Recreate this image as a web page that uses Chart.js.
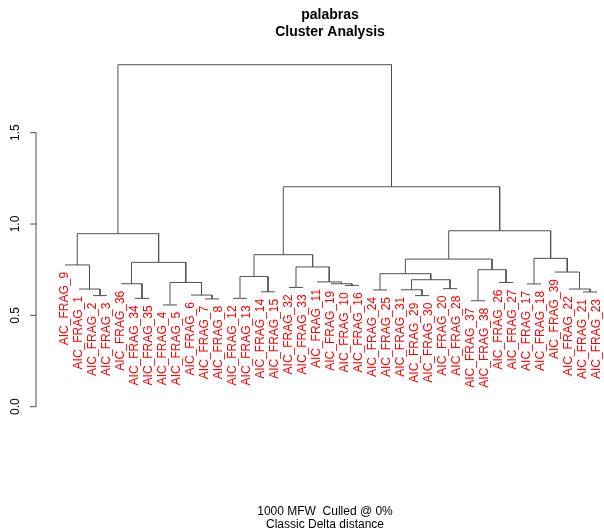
<!DOCTYPE html>
<html>
<head>
<meta charset="utf-8">
<script src="https://cdn.jsdelivr.net/npm/chart.js@4"></script>
<style>
  html, body { margin: 0; padding: 0; background: #fff; }
  canvas { display: block; }
</style>
</head>
<body>
<canvas id="dendro" width="604" height="532"></canvas>
<script>
// --- data ---
const leafLabels = [
  'AIC_FRAG_9', 'AIC_FRAG_1', 'AIC_FRAG_2', 'AIC_FRAG_3', 'AIC_FRAG_36',
  'AIC_FRAG_34', 'AIC_FRAG_35', 'AIC_FRAG_4', 'AIC_FRAG_5', 'AIC_FRAG_6',
  'AIC_FRAG_7', 'AIC_FRAG_8', 'AIC_FRAG_12', 'AIC_FRAG_13', 'AIC_FRAG_14',
  'AIC_FRAG_15', 'AIC_FRAG_32', 'AIC_FRAG_33', 'AIC_FRAG_11', 'AIC_FRAG_19',
  'AIC_FRAG_10', 'AIC_FRAG_16', 'AIC_FRAG_24', 'AIC_FRAG_25', 'AIC_FRAG_31',
  'AIC_FRAG_29', 'AIC_FRAG_30', 'AIC_FRAG_20', 'AIC_FRAG_28', 'AIC_FRAG_37',
  'AIC_FRAG_38', 'AIC_FRAG_26', 'AIC_FRAG_27', 'AIC_FRAG_17', 'AIC_FRAG_18',
  'AIC_FRAG_39', 'AIC_FRAG_22', 'AIC_FRAG_21', 'AIC_FRAG_23'
];

// hclust style: negative = leaf (1-based position), positive = merge row (1-based)
const mergeLeft = [
  -3, -2, -1, -6, -5, -8, -11, -10, 6, 5, 3,
  -13, -15, 12, -17, -21, -20, -19, 15, 14,
  -23, -26, -25, -28, 23, 21, -30, -32, 27, 26,
  -34, -38, -37, -36, 31, 30, 20, 11
];
const mergeRight = [
  -4, 1, 2, -7, 4, -9, -12, 7, 8, 9, 10,
  -14, -16, 13, -18, -22, 16, 17, 18, 19,
  -24, -27, 22, -29, 24, 25, -31, -33, 28, 29,
  -35, -39, 32, 33, 34, 35, 36, 37
];
const mergeHeight = [
  0.608, 0.644, 0.776, 0.593, 0.673, 0.557, 0.590, 0.611, 0.680, 0.790, 0.947,
  0.593, 0.629, 0.713, 0.653, 0.664, 0.673, 0.683, 0.765, 0.832,
  0.639, 0.608, 0.640, 0.646, 0.695, 0.728, 0.580, 0.680, 0.750, 0.808,
  0.672, 0.628, 0.644, 0.737, 0.812, 0.963, 1.204, 1.872
];

const yTicks = [0, 0.5, 1.0, 1.5];
const yTickLabels = ['0.0', '0.5', '1.0', '1.5'];

const mainTitle = 'palabras';
const subTitle = 'Cluster Analysis';
const bottomLines = ['1000 MFW  Culled @ 0%', 'Classic Delta distance'];

// --- tree geometry (in data units) ---
const mergeX = [];
const leafTop = new Array(leafLabels.length).fill(0);

function nodeX(ref) {
  return ref < 0 ? (-ref - 1) : mergeX[ref - 1];
}
function nodeH(ref, parentH) {
  return ref < 0 ? parentH : mergeHeight[ref - 1];
}

const datasets = [];
for (let i = 0; i < mergeHeight.length; i++) {
  const l = mergeLeft[i], r = mergeRight[i], h = mergeHeight[i];
  const xl = nodeX(l), xr = nodeX(r);
  mergeX.push((xl + xr) / 2);
  if (l < 0) leafTop[-l - 1] = h;
  if (r < 0) leafTop[-r - 1] = h;
  datasets.push({
    data: [
      { x: xl, y: nodeH(l, h) },
      { x: xl, y: h },
      { x: xr, y: h },
      { x: xr, y: nodeH(r, h) }
    ],
    borderColor: '#505050',
    borderWidth: 1,
    pointRadius: 0,
    tension: 0,
    fill: false
  });
}

// --- axis, leaf labels and titles ---
const dendroText = {
  id: 'dendroText',
  afterDatasetsDraw(chart) {
    const ctx = chart.ctx;
    const xs = chart.scales.x, ys = chart.scales.y;
    const area = chart.chartArea;
    ctx.save();

    // leaf labels
    ctx.fillStyle = '#ff0000';
    ctx.font = '12px "Liberation Sans", Arial, sans-serif';
    ctx.textAlign = 'right';
    ctx.textBaseline = 'middle';
    leafLabels.forEach((lab, i) => {
      const px = xs.getPixelForValue(i);
      const py = ys.getPixelForValue(leafTop[i]) + 7;
      ctx.save();
      ctx.translate(px, py);
      ctx.rotate(-Math.PI / 2);
      ctx.fillText(lab, 0, 0);
      ctx.restore();
    });

    // y axis
    const ax = area.left;
    ctx.strokeStyle = '#505050';
    ctx.lineWidth = 1;
    ctx.beginPath();
    ctx.moveTo(ax, ys.getPixelForValue(yTicks[0]));
    ctx.lineTo(ax, ys.getPixelForValue(yTicks[yTicks.length - 1]));
    yTicks.forEach(v => {
      const py = ys.getPixelForValue(v);
      ctx.moveTo(ax, py);
      ctx.lineTo(ax - 6, py);
    });
    ctx.stroke();

    ctx.fillStyle = '#000';
    ctx.textAlign = 'center';
    ctx.textBaseline = 'middle';
    yTicks.forEach((v, i) => {
      const py = ys.getPixelForValue(v);
      ctx.save();
      ctx.translate(16, py);
      ctx.rotate(-Math.PI / 2);
      ctx.fillText(yTickLabels[i], 0, 0);
      ctx.restore();
    });

    // titles
    ctx.font = 'bold 14px "Liberation Sans", Arial, sans-serif';
    ctx.fillText(mainTitle, 330, 15);
    ctx.fillText(subTitle, 330, 32);

    ctx.font = '12px "Liberation Sans", Arial, sans-serif';
    ctx.fillText(bottomLines[0], 325, 512);
    ctx.fillText(bottomLines[1], 325, 525);

    ctx.restore();
  }
};

new Chart(document.getElementById('dendro'), {
  type: 'line',
  data: { datasets: datasets },
  options: {
    responsive: false,
    animation: false,
    layout: { padding: { left: 36, right: 4, top: 60, bottom: 112 } },
    plugins: { legend: { display: false }, tooltip: { enabled: false }, title: { display: false } },
    scales: {
      x: { type: 'linear', min: -2.071, max: 38.214, display: false },
      y: { type: 'linear', min: -0.0728, max: 1.8977, display: false }
    }
  },
  plugins: [dendroText]
});
</script>
</body>
</html>
